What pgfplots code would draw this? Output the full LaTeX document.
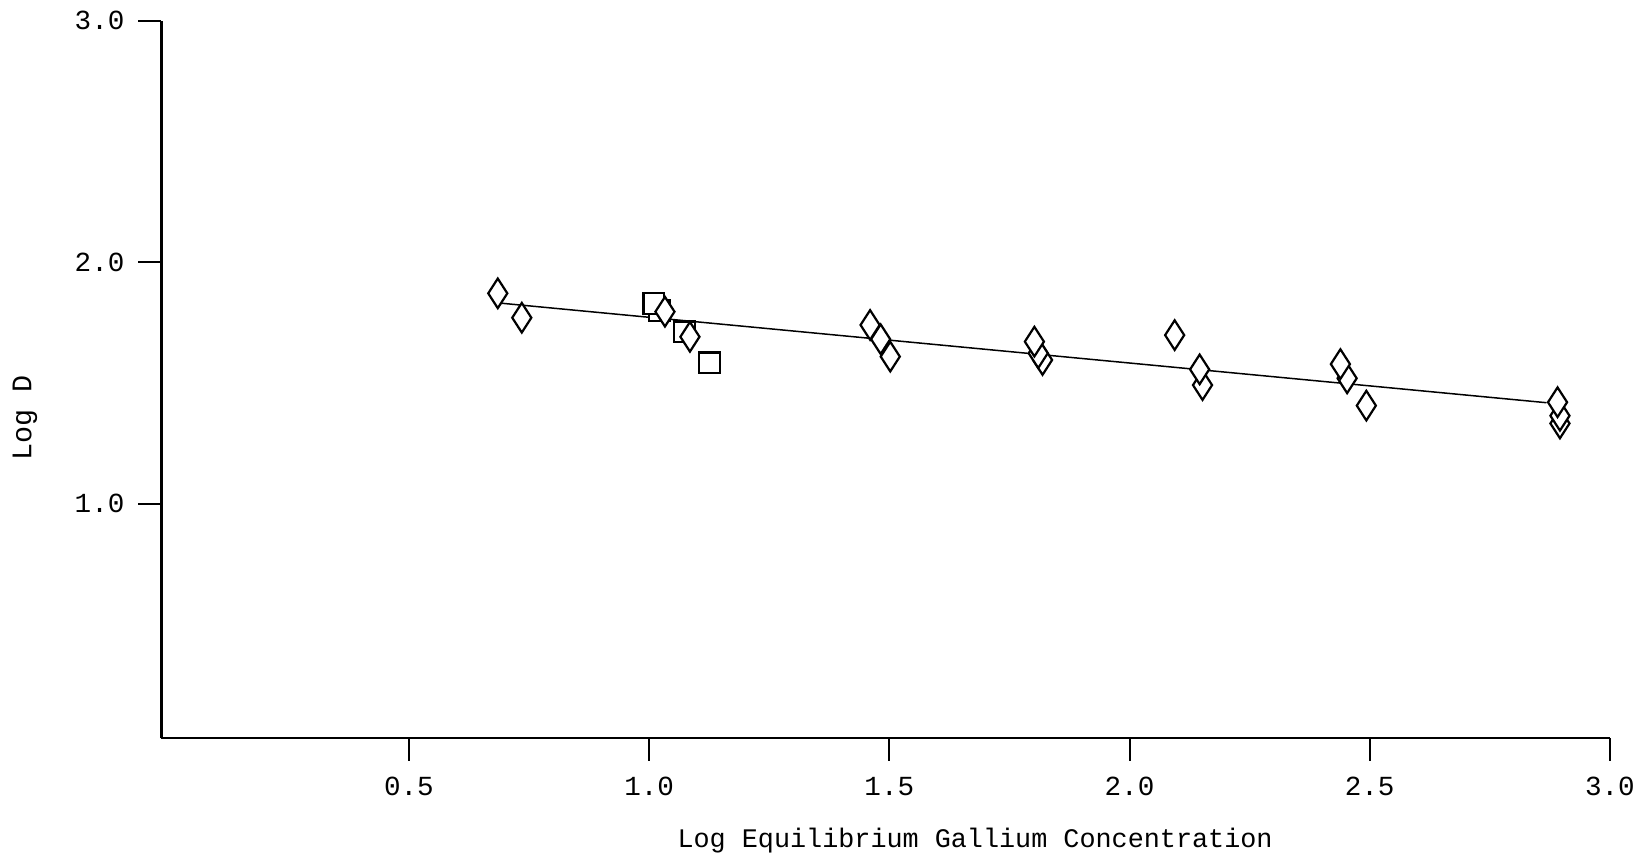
\documentclass[border=0pt]{standalone}
\usepackage{fontspec}
\setmainfont{Liberation Mono}
\usepackage{pgfplots}
\pgfplotsset{compat=1.18}
\begin{document}
\begin{tikzpicture}
\begin{axis}[
  at={(0,0)}, anchor=south west,
  scale only axis, width=724.2pt, height=358.5pt,
  xmin=-0.015, xmax=3, ymin=0.03, ymax=3,
  axis lines=left,
  axis line style={-, line width=1.1pt, black},
  xtick={0.5,1,1.5,2,2.5,3},
  xticklabels={0.5,1.0,1.5,2.0,2.5,3.0},
  ytick={1,2,3},
  yticklabels={1.0,2.0,3.0},
  tick align=outside,
  major tick length=11.5pt,
  tick style={line width=1pt, black},
  ticklabel style={font=\fontsize{13.8}{16}\selectfont},
  xticklabel style={yshift=-4.75pt},
  yticklabel style={xshift=-3.5pt},
  xlabel={Log Equilibrium Gallium Concentration},
  ylabel={Log D},
  xlabel style={font=\fontsize{13.4}{16}\selectfont, at={(rel axis cs:0.5617,-0.1439)}, anchor=center},
  ylabel style={font=\fontsize{14.2}{16}\selectfont, at={(rel axis cs:-0.0942,0.446)}, anchor=center},
  clip=false,
]
% fitted line
\addplot[black, line width=0.75pt] coordinates {(0.693,1.830) (2.868,1.418)};
% squares
\addplot[only marks, mark=square*, mark size=5.2pt,
  mark options={draw=black, fill=white, line width=1.1pt}]
  coordinates {(1.022,1.800) (1.010,1.828) (1.074,1.711) (1.126,1.583)};
% diamonds
\addplot[only marks, mark=diamond*, mark size=7.4pt,
  mark options={draw=black, fill=white, line width=1.1pt, xscale=0.86}]
  coordinates {
  (0.685,1.871) (0.735,1.770)
  (1.033,1.795) (1.085,1.691)
  (1.502,1.609) (1.482,1.681) (1.460,1.740)
  (1.819,1.595) (1.810,1.623) (1.802,1.671)
  (2.094,1.698)
  (2.152,1.491) (2.146,1.556)
  (2.493,1.406) (2.453,1.519) (2.439,1.578)
  (2.896,1.332) (2.896,1.364) (2.891,1.420)
  };
\end{axis}
\pgfresetboundingbox
\path[use as bounding box] (-80.75pt,-64.1pt) rectangle (743.25pt,368.9pt);
\end{tikzpicture}
\end{document}
